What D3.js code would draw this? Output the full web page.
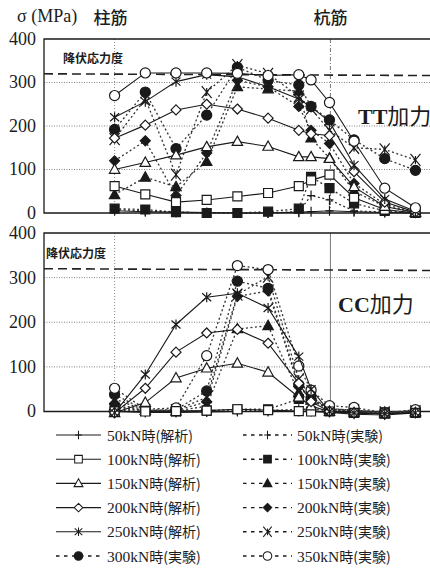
<!DOCTYPE html>
<html>
<head>
<meta charset="utf-8">
<script src="https://cdn.jsdelivr.net/npm/d3@7"></script>
<style>
  body { margin: 0; background: #fff; }
  svg { display: block; }
  text { fill: #1c1c1c; }
</style>
</head>
<body>
<div id="chart"></div>
<script>
const width = 430;
const height = 569;

// gauge positions along the bar (gauge pitch units)
const gauges = [0, 1, 2, 3, 4, 5, 6, 6.4, 7, 7.8, 8.8, 9.8];
const barLines = [0, 7.03];          // 柱筋 / 杭筋 boundaries
const yTicks = [0, 100, 200, 300, 400];
const gridTicks = [100, 200, 300];
const yieldStress = 320;

// TT加力 : analysis (解析)
const ttA50  = [5, 3, 2, 1, 0, 0, 2, 3, 5, 3, 1, 0];
const ttA100 = [62, 43, 25, 30, 38, 46, 62, 75, 88, 35, 8, 0];
const ttA150 = [100, 116, 133, 152, 164, 153, 129, 129, 125, 60, 15, 1];
const ttA200 = [172, 202, 237, 250, 239, 218, 190, 182, 178, 95, 25, 2];
const ttA250 = [220, 256, 302, 318, 313, 290, 262, 244, 210, 110, 32, 4];
const ttA300 = [270, 322, 322, 322, 321, 316, 318, 306, 254, 165, 57, 12];
// TT加力 : experiment (実験)
const ttE50  = [8, 5, 2, 0, 0, 0, 3, 40, 30, 5, 2, 0];
const ttE100 = [10, 8, 2, 0, 0, 3, 10, 83, 57, 22, 5, 0];
const ttE150 = [42, 82, 60, 118, 290, 285, 280, 172, 126, 50, 15, 2];
const ttE200 = [120, 166, 40, 138, 305, 290, 245, 190, 160, 68, 20, 1];
const ttE250 = [170, 262, 88, 278, 340, 320, 268, 240, 190, 150, 146, 122];
const ttE300 = [192, 278, 148, 225, 335, 305, 294, 245, 214, 168, 125, 98];

// CC加力 : analysis
const ccA50  = [0, -2, -2, -1, 0, 0, 0, 0, -2, -6, -8, -3];
const ccA100 = [0, 0, 1, 2, 5, 3, 1, 0, 0, -3, -5, -3];
const ccA150 = [-3, 20, 75, 97, 108, 88, 32, 12, 0, -3, -5, -3];
const ccA200 = [-3, 52, 133, 176, 184, 153, 63, 22, 0, -3, -5, -3];
const ccA250 = [-3, 83, 195, 256, 265, 232, 123, 50, 0, -3, -5, -3];
// CC加力 : experiment
const ccE50  = [3, 0, 0, 0, 2, 2, 5, 5, 2, 0, -2, 0];
const ccE100 = [8, 2, 0, 2, 5, 5, 28, 32, 5, 1, -2, 1];
const ccE150 = [12, 2, 1, 12, 185, 192, 42, 25, 4, 1, -2, 0];
const ccE200 = [18, 2, 2, 22, 258, 270, 56, 28, 5, 2, -2, 1];
const ccE250 = [28, 3, 3, 32, 262, 302, 72, 32, 6, 3, -2, 1];
const ccE300 = [38, 3, 4, 46, 292, 276, 60, 26, 6, 3, -3, 2];
const ccE350 = [52, 5, 8, 125, 327, 318, 102, 48, 13, 9, -3, 4];

// legend order
const legendLeft  = ["a50", "a100", "a150", "a200", "a250", "e300"];
const legendRight = ["e50", "e100", "e150", "e200", "e250", "e350"];
const legendLabels = {
  a50: "50kN時(解析)", a100: "100kN時(解析)", a150: "150kN時(解析)",
  a200: "200kN時(解析)", a250: "250kN時(解析)", e300: "300kN時(実験)",
  e50: "50kN時(実験)", e100: "100kN時(実験)", e150: "150kN時(実験)",
  e200: "200kN時(実験)", e250: "250kN時(実験)", e350: "350kN時(実験)"
};

const panels = [
  { title: "TT加力", top: 39, bottom: 213, pileDash: "4,2,1,2",
    series: { a50: ttA50, a100: ttA100, a150: ttA150, a200: ttA200, a250: ttA250, a300: ttA300,
              e50: ttE50, e100: ttE100, e150: ttE150, e200: ttE200, e250: ttE250, e300: ttE300 } },
  { title: "CC加力", top: 233, bottom: 411.5, pileDash: null,
    series: { a50: ccA50, a100: ccA100, a150: ccA150, a200: ccA200, a250: ccA250,
              e50: ccE50, e100: ccE100, e150: ccE150, e200: ccE200, e250: ccE250,
              e300: ccE300, e350: ccE350 } }
];

const markers = {
  plus: "M-4,0H4M0,-5V5",
  square: "M-4.5,-4.5H4.5V4.5H-4.5Z",
  triangle: "M0,-5.5L5.2,3.8L-5.2,3.8Z",
  diamond: "M0,-5L5,0L0,5L-5,0Z",
  star: "M0,-5V5M-4.5,-4L4.5,4M-4.5,4L4.5,-4",
  cross: "M-5,-6L5,6M-5,6L5,-6M0,-4V4",
  circle: d3.symbol(d3.symbolCircle, 80)()
};

const styles = {
  a50:  { m: "plus",     fill: "none", dash: null },
  a100: { m: "square",   fill: "#fff", dash: null },
  a150: { m: "triangle", fill: "#fff", dash: null },
  a200: { m: "diamond",  fill: "#fff", dash: null },
  a250: { m: "star",     fill: "none", dash: null },
  a300: { m: "circle",   fill: "#fff", dash: null },
  e50:  { m: "plus",     fill: "none", dash: "2,2.5" },
  e100: { m: "square",   fill: "#1a1a1a", dash: "2,2.5" },
  e150: { m: "triangle", fill: "#1a1a1a", dash: "2,2.5" },
  e200: { m: "diamond",  fill: "#1a1a1a", dash: "2,2.5" },
  e250: { m: "cross",    fill: "none", dash: "2,2.5" },
  e300: { m: "circle",   fill: "#1a1a1a", dash: "2,2.5" },
  e350: { m: "circle",   fill: "#fff", dash: "2,2.5" }
};
const drawOrder = ["e50", "e100", "e150", "e200", "e250", "e300", "e350",
                   "a50", "a100", "a150", "a200", "a250", "a300"];

const svg = d3.select("#chart").append("svg")
  .attr("width", width)
  .attr("height", height);

const x = d3.scaleLinear().domain([-2.3, 10.6]).range([44, 440]);

const serif = "'Liberation Serif', 'DejaVu Serif', serif";
const cjk = "'Noto Sans CJK JP', sans-serif";

// header labels
svg.append("text").attr("x", 17).attr("y", 22)
  .attr("font-family", serif).attr("font-size", 18).text("σ (MPa)");
svg.append("text").attr("x", x(0) - 21).attr("y", 24)
  .attr("font-family", cjk).attr("font-size", 17).attr("font-weight", 500).text("柱筋");
svg.append("text").attr("x", x(barLines[1]) - 17).attr("y", 24)
  .attr("font-family", cjk).attr("font-size", 17).attr("font-weight", 500).text("杭筋");

panels.forEach((p, pi) => {
  const y = d3.scaleLinear().domain([0, 400]).range([p.bottom, p.top]);
  const g = svg.append("g");

  // grid
  g.selectAll(".grid").data(gridTicks).join("line")
    .attr("x1", x.range()[0]).attr("x2", width)
    .attr("y1", d => y(d)).attr("y2", d => y(d))
    .attr("stroke", "#777").attr("stroke-width", 0.9).attr("stroke-dasharray", "1,1.5");

  g.append("line")
    .attr("x1", x(barLines[0])).attr("x2", x(barLines[0]))
    .attr("y1", y(400)).attr("y2", y(0))
    .attr("stroke", "#888").attr("stroke-dasharray", "1,2");
  g.append("line")
    .attr("x1", x(barLines[1])).attr("x2", x(barLines[1]))
    .attr("y1", y(400)).attr("y2", y(0))
    .attr("stroke", "#777")
    .attr("stroke-dasharray", p.pileDash);

  // frame
  g.append("path")
    .attr("d", `M${width + 5},${y(400)}H${x.range()[0]}V${y(0)}H${width + 5}`)
    .attr("fill", "none").attr("stroke", "#1a1a1a").attr("stroke-width", 1.3);

  // y axis labels
  const ax = g.append("g").attr("transform", `translate(${x.range()[0]},0)`)
    .call(d3.axisLeft(y).tickValues(yTicks).tickSize(0).tickPadding(8));
  ax.select(".domain").remove();
  ax.selectAll("text")
    .attr("font-family", serif).attr("font-size", 18)
    .attr("fill", "#1c1c1c").attr("dy", "0.3em");

  // yield line
  g.append("line")
    .attr("x1", x.range()[0]).attr("x2", width)
    .attr("y1", y(yieldStress)).attr("y2", y(yieldStress - 4))
    .attr("stroke", "#222").attr("stroke-width", 1.6).attr("stroke-dasharray", "9,5");
  g.append("text")
    .attr("x", pi === 0 ? 63 : 46).attr("y", y(yieldStress) - 11)
    .attr("font-family", cjk).attr("font-size", 12).attr("font-weight", 700)
    .text("降伏応力度");

  // panel title
  const t = g.append("text")
    .attr("x", pi === 0 ? 358 : 338).attr("y", y(pi === 0 ? 205 : 223))
    .attr("font-size", 22);
  t.append("tspan").attr("font-family", serif).attr("font-weight", 700).text(p.title.slice(0, 2));
  t.append("tspan").attr("font-family", cjk).text(p.title.slice(2));

  // series
  const line = d3.line().x((d, i) => x(gauges[i])).y(d => y(d));
  drawOrder.filter(k => p.series[k]).forEach(k => {
    const vals = p.series[k];
    const s = styles[k];
    const sg = g.append("g");
    sg.append("path")
      .attr("d", line(vals))
      .attr("fill", "none")
      .attr("stroke", s.dash ? "#333" : "#1a1a1a")
      .attr("stroke-width", s.dash ? 1.3 : 1.1)
      .attr("stroke-dasharray", s.dash);
    sg.selectAll("path.m").data(vals).join("path")
      .attr("class", "m")
      .attr("transform", (d, i) => `translate(${x(gauges[i])},${y(d)})`)
      .attr("d", markers[s.m])
      .attr("fill", s.fill)
      .attr("stroke", "#1a1a1a")
      .attr("stroke-width", 1.2);
  });
});

// legend
const legendRows = d3.range(legendLeft.length);
const rowY = d3.scaleLinear().domain([0, 5]).range([435, 556]);
[[legendLeft, 56, 101, 107], [legendRight, 243, 292, 297]].forEach(([keys, x0, x1, tx]) => {
  keys.forEach((k, i) => {
    const s = styles[k];
    const lg = svg.append("g");
    const yy = rowY(legendRows[i]);
    lg.append("line")
      .attr("x1", x0).attr("x2", x1).attr("y1", yy).attr("y2", yy)
      .attr("stroke", "#1a1a1a").attr("stroke-width", s.dash ? 1.4 : 1.1)
      .attr("stroke-dasharray", s.dash ? "3.5,4.5" : null);
    lg.append("path")
      .attr("transform", `translate(${(x0 + x1) / 2},${yy}) scale(0.85)`)
      .attr("d", markers[s.m])
      .attr("fill", s.fill).attr("stroke", "#1a1a1a").attr("stroke-width", 1.2);
    const label = legendLabels[k];
    const n = label.indexOf("時");
    const t = lg.append("text").attr("x", tx).attr("y", yy + 5.5).attr("font-size", 15.5);
    t.append("tspan").attr("font-family", serif).text(label.slice(0, n));
    t.append("tspan").attr("font-family", cjk).attr("font-size", 14).text(label.slice(n));
  });
});
</script>
</body>
</html>
